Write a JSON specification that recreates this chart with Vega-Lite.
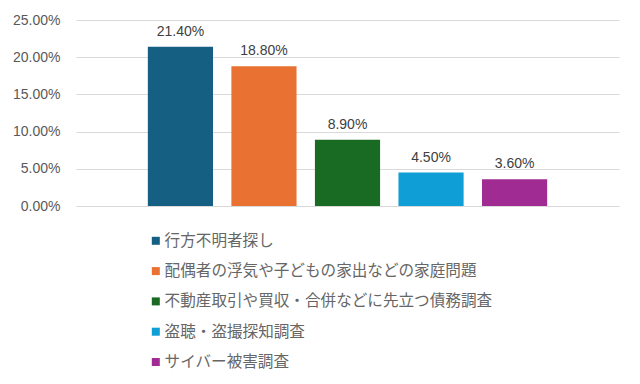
{
  "$schema": "https://vega.github.io/schema/vega-lite/v6.json",
  "width": 543,
  "height": 186,
  "autosize": {"type": "none"},
  "padding": {"left": 76, "top": 20, "right": 21, "bottom": 178},
  "background": "white",
  "config": {
    "view": {"stroke": null},
    "font": "Liberation Sans, Noto Sans CJK JP"
  },
  "data": {
    "values": [
      {"category": "行方不明者探し", "value": 0.214},
      {"category": "配偶者の浮気や子どもの家出などの家庭問題", "value": 0.188},
      {"category": "不動産取引や買収・合併などに先立つ債務調査", "value": 0.089},
      {"category": "盗聴・盗撮探知調査", "value": 0.045},
      {"category": "サイバー被害調査", "value": 0.036}
    ]
  },
  "encoding": {
    "x": {
      "field": "category",
      "type": "nominal",
      "sort": null,
      "axis": null,
      "scale": {"paddingInner": 0.22, "paddingOuter": 0.86}
    },
    "y": {
      "field": "value",
      "type": "quantitative",
      "scale": {"domain": [0, 0.25]},
      "axis": {
        "values": [0, 0.05, 0.1, 0.15, 0.2, 0.25],
        "format": ".2%",
        "title": null,
        "domain": false,
        "ticks": false,
        "labelPadding": 16,
        "labelFontSize": 14,
        "labelColor": "#595959",
        "gridColor": "#d9d9d9",
        "gridWidth": 1
      }
    }
  },
  "layer": [
    {
      "mark": {"type": "bar"},
      "encoding": {
        "color": {
          "field": "category",
          "type": "nominal",
          "sort": null,
          "scale": {"range": ["#156082", "#E97132", "#196B24", "#0F9ED5", "#A02B93"]},
          "legend": {
            "orient": "none",
            "legendX": 72,
            "legendY": 213,
            "direction": "vertical",
            "title": null,
            "symbolType": "square",
            "symbolSize": 64,
            "symbolStrokeWidth": 0,
            "labelFontSize": 15.6,
            "labelColor": "#666666",
            "labelOffset": 1,
            "rowPadding": 13.3,
            "labelLimit": 500
          }
        }
      }
    },
    {
      "mark": {"type": "text", "baseline": "bottom", "dy": -8, "fontSize": 14, "color": "#404040"},
      "encoding": {
        "text": {"field": "value", "type": "quantitative", "format": ".2%"}
      }
    }
  ]
}
